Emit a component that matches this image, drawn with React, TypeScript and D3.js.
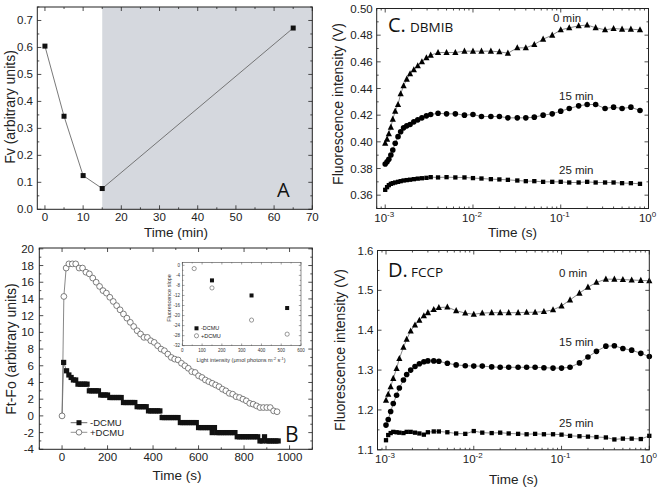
import React from "react";
import * as d3 from "d3";

const W = 661;
const H = 492;

// ---------------- Panel A ----------------
const aTimes = [0, 5, 10, 15, 65];
const aFv = [0.605, 0.345, 0.125, 0.077, 0.672];
const aShadeFrom = 15;
const aXTicks = [0, 10, 20, 30, 40, 50, 60, 70];
const aYTicks = [0, 0.1, 0.2, 0.3, 0.4, 0.5, 0.6, 0.7];

// ---------------- Panel B ----------------
const bPlusTimes = [0, 8, 18, 30, ...d3.range(45, 946, 15)];
const bPlusValues = [
  0, 14.3, 17.7, 18.2,
  18.2, 18.2, 17.7, 17.7, 17.2, 17.0, 16.5, 16.0, 15.5, 15.0,
  14.7, 14.2, 13.7, 13.2, 12.7, 12.2, 11.7, 11.2, 10.7, 10.2,
  9.8, 9.4, 9.4, 9.0, 8.8, 8.4, 8.0, 7.8, 7.4, 7.0,
  6.8, 6.7, 6.3, 6.0, 5.7, 5.3, 5.2, 4.8, 4.6, 4.3,
  4.1, 3.9, 3.7, 3.5, 3.2, 3.0, 2.7, 2.6, 2.3, 2.2,
  2.0, 1.8, 1.5, 1.4, 1.2, 1.0, 1.0, 1.0, 1.0, 0.6, 0.5,
];
const bMinusTimes = [7, ...d3.range(20, 951, 10)];
const bMinusValues = [
  6.4,
  5.4, 4.9, 4.6, 4.3, 4.3,
  3.8, 3.8, 3.8, 3.8, 3.8,
  3.0, 3.0, 3.0, 3.0, 3.0,
  2.5, 2.5, 2.5, 2.5,
  2.2, 2.2, 2.2, 2.2, 2.2, 2.2,
  1.6, 1.6, 1.6, 1.6, 1.6, 1.6,
  1.1, 1.1, 1.1, 1.1, 1.1,
  0.6, 0.6, 0.6, 0.6, 0.6, 0.6,
  -0.2, -0.2, -0.2, -0.2, -0.2, -0.2, -0.2, -0.2,
  -0.8, -0.8, -0.8, -0.8, -0.8, -0.8, -0.8, -0.8,
  -1.4, -1.4, -1.4, -1.4, -1.4, -1.4,
  -2.0, -1.4,
  -2.0, -2.0, -2.0, -2.0, -2.0, -2.0, -2.0, -2.0, -2.0,
  -2.5, -2.5, -2.5, -2.5, -2.5, -2.5, -2.5, -2.5, -2.5, -2.5,
  -3.0, -3.0, -2.5,
  -3.0, -3.0, -3.0, -3.0, -3.0, -3.0,
];
const bXTicks = [0, 200, 400, 600, 800, 1000];
const bYTicks = [-4, -2, 0, 2, 4, 6, 8, 10, 12, 14, 16, 18, 20];

// inset of panel B
const insetMinusLight = [150, 350, 530];
const insetMinusSlope = [-6, -12, -17];
const insetPlusLight = [60, 150, 350, 530];
const insetPlusSlope = [-1.3, -9.0, -21.8, -27.4];
const insetXTicks = [0, 100, 200, 300, 400, 500, 600];
const insetYTicks = [0, -4, -8, -12, -16, -20, -24, -28, -32];

// ---------------- Panel C (DBMIB) ----------------
const cTimes = [
  0.001, 0.00105, 0.0011, 0.00116, 0.00122, 0.0013, 0.0014, 0.0015, 0.00162, 0.00176,
  0.00192, 0.00212, 0.00235, 0.00262, 0.00295, 0.0033, 0.004, 0.005, 0.0063, 0.008,
  0.01, 0.0125, 0.016, 0.02, 0.025, 0.032, 0.04, 0.05, 0.063, 0.08,
  0.1, 0.125, 0.16, 0.2, 0.25, 0.32, 0.4, 0.5, 0.63, 0.8,
];
const c0min = [
  0.399, 0.402, 0.406, 0.411, 0.417, 0.423, 0.428, 0.436, 0.442, 0.447,
  0.451, 0.454, 0.457, 0.46, 0.463, 0.465, 0.467, 0.467, 0.467, 0.468,
  0.468, 0.468, 0.468, 0.4675, 0.4665, 0.4705, 0.4705, 0.473, 0.477, 0.48,
  0.484, 0.4855, 0.487, 0.4876, 0.4856, 0.484, 0.485, 0.4845, 0.4845, 0.484,
];
const c15min = [
  0.3834, 0.3851, 0.3869, 0.3901, 0.3939, 0.3989, 0.4039, 0.4076, 0.4105, 0.412,
  0.413, 0.415, 0.4165, 0.418, 0.4195, 0.4205, 0.4214, 0.421, 0.421, 0.42,
  0.4205, 0.419, 0.419, 0.419, 0.418, 0.418, 0.418, 0.4185, 0.42, 0.421,
  0.423, 0.425, 0.427, 0.428, 0.428, 0.425, 0.426, 0.425, 0.426, 0.4235,
];
const c25min = [
  0.364, 0.366, 0.3675, 0.3685, 0.369, 0.3695, 0.37, 0.3705, 0.371, 0.3713,
  0.3716, 0.372, 0.3724, 0.3727, 0.373, 0.3735, 0.3733, 0.3735, 0.3733, 0.3733,
  0.3728, 0.3725, 0.372, 0.3718, 0.3715, 0.371, 0.3705, 0.3705, 0.37, 0.37,
  0.37, 0.3695, 0.3695, 0.37, 0.3695, 0.3695, 0.3695, 0.369, 0.369, 0.3685,
];
const cYTicks = [0.36, 0.38, 0.4, 0.42, 0.44, 0.46, 0.48, 0.5];

// ---------------- Panel D (FCCP) ----------------
const dTimes = [
  0.001, 0.00106, 0.00113, 0.00121, 0.00132, 0.00142, 0.00158, 0.00172, 0.00191, 0.00214,
  0.0024, 0.0027, 0.003, 0.0035, 0.004, 0.005, 0.0063, 0.008, 0.01, 0.0125,
  0.016, 0.02, 0.025, 0.032, 0.04, 0.05, 0.063, 0.08, 0.1, 0.125,
  0.16, 0.2, 0.25, 0.32, 0.4, 0.5, 0.63, 0.8, 1.0,
];
const d0min = [
  1.224, 1.239, 1.258, 1.279, 1.304, 1.329, 1.357, 1.377, 1.398, 1.413,
  1.425, 1.436, 1.444, 1.452, 1.457, 1.458, 1.449, 1.443, 1.44, 1.443,
  1.444, 1.444, 1.444, 1.444, 1.445, 1.445, 1.447, 1.451, 1.461, 1.476,
  1.493, 1.508, 1.52, 1.528, 1.528, 1.527, 1.526, 1.525, 1.524,
];
const d15min = [
  1.162, 1.176, 1.196, 1.216, 1.237, 1.255, 1.275, 1.289, 1.3, 1.309,
  1.316, 1.321, 1.323, 1.323, 1.322, 1.317, 1.313, 1.311, 1.31, 1.31,
  1.308, 1.307, 1.307, 1.307, 1.307, 1.307, 1.306, 1.305, 1.305, 1.307,
  1.318, 1.333, 1.347, 1.36, 1.361, 1.354, 1.35, 1.342, 1.334,
];
const d25min = [
  1.124, 1.137, 1.142, 1.145, 1.144, 1.143, 1.142, 1.145, 1.145, 1.143,
  1.141, 1.138, 1.144, 1.146, 1.146, 1.144, 1.141, 1.14, 1.147, 1.143,
  1.142, 1.143, 1.141, 1.14, 1.139, 1.14, 1.139, 1.139, 1.138, 1.135,
  1.134, 1.133, 1.132, 1.131, 1.126, 1.128, 1.128, 1.127, 1.135,
];
const dYTicks = [1.1, 1.2, 1.3, 1.4, 1.5, 1.6];
const logExponents = [-3, -2, -1, 0];

// ---------------- styling ----------------
const TF = "'Liberation Sans', Arial, Helvetica, sans-serif";
const LF = "'Open Sans', 'DejaVu Sans', sans-serif";
const FRAME = "#222";
const LINE = "#6a6a6a";

function linTicksPath(xs: any, ys: any, xMaj: number[], xMin: number[], yMaj: number[], yMin: number[], L: number, l: number) {
  const [x0, x1] = xs.range();
  const [y0, y1] = ys.range();
  let d = "";
  const ax = (v: number, len: number) => {
    const p = xs(v);
    d += `M${p},${y0}v${-len}M${p},${y1}v${len}`;
  };
  const ay = (v: number, len: number) => {
    const p = ys(v);
    d += `M${x0},${p}h${len}M${x1},${p}h${-len}`;
  };
  xMaj.forEach((v) => ax(v, L));
  xMin.forEach((v) => ax(v, l));
  yMaj.forEach((v) => ay(v, L));
  yMin.forEach((v) => ay(v, l));
  return d;
}

function minorBetween(domain: number[], step: number, majors: number[]) {
  const lo = Math.min(domain[0], domain[1]);
  const hi = Math.max(domain[0], domain[1]);
  const start = Math.ceil(lo / step - 1e-9) * step;
  return d3
    .range(start, hi + 1e-9, step)
    .filter((v) => !majors.some((m) => Math.abs(m - v) < step * 0.01));
}

const Square = ({ x, y, s, fill = "#000" }: any) => (
  <rect x={x - s / 2} y={y - s / 2} width={s} height={s} fill={fill} />
);
const Tri = ({ x, y, s }: any) => (
  <path d={`M${x},${y - s * 0.58}L${x + s / 2},${y + s * 0.4}L${x - s / 2},${y + s * 0.4}Z`} fill="#000" />
);

function PanelA() {
  const xs = d3.scaleLinear().domain([-2, 70]).range([37.3, 312.3]);
  const ys = d3.scaleLinear().domain([0, 0.75]).range([209.3, 7]);
  const pts = aTimes.map((t, i) => [xs(t), ys(aFv[i])] as [number, number]);
  const line = d3.line();
  const ticks = linTicksPath(
    xs, ys, aXTicks, minorBetween([0, 70], 5, aXTicks), aYTicks, minorBetween([0, 0.75], 0.05, aYTicks), 4, 2
  );
  return (
    <g>
      <rect x={xs(aShadeFrom)} y={ys(0.75)} width={xs(70) - xs(aShadeFrom)} height={ys(0) - ys(0.75)} fill="#d5d8de" />
      <path d={line(pts) || ""} fill="none" stroke={LINE} strokeWidth={0.9} />
      {pts.map(([x, y], i) => (
        <Square key={i} x={x} y={y} s={5} fill="#111" />
      ))}
      <path d={ticks} stroke={FRAME} strokeWidth={0.8} fill="none" />
      <rect x={xs(-2)} y={ys(0.75)} width={xs(70) - xs(-2)} height={ys(0) - ys(0.75)} fill="none" stroke={FRAME} strokeWidth={1} />
      {aYTicks.map((v) => (
        <text key={v} x={33} y={ys(v) + 4} textAnchor="end" fontSize={11.5} fontFamily={TF} fill="#222">
          {d3.format(".1f")(v)}
        </text>
      ))}
      {aXTicks.map((v) => (
        <text key={v} x={xs(v)} y={221} textAnchor="middle" fontSize={11.5} fontFamily={TF} fill="#222">
          {v}
        </text>
      ))}
      <text x={176} y={237} textAnchor="middle" fontSize={13.5} fontFamily={TF} fill="#222">Time (min)</text>
      <text transform={`translate(15,107) rotate(-90)`} textAnchor="middle" fontSize={14} fontFamily={TF} fill="#222">
        Fv (arbitrary units)
      </text>
      <text x={277} y={196.7} fontSize={20} fontFamily={LF} fill="#111">A</text>
    </g>
  );
}

function PanelB() {
  const xs = d3.scaleLinear().domain([-100, 1100]).range([39.3, 312.3]);
  const ys = d3.scaleLinear().domain([-4, 20.1]).range([449.3, 248]);
  const line = d3.line();
  const plus = bPlusTimes.map((t, i) => [xs(t), ys(bPlusValues[i])] as [number, number]);
  const minus = [[xs(0), ys(0)] as [number, number]].concat(
    bMinusTimes.map((t, i) => [xs(t), ys(bMinusValues[i])] as [number, number])
  );
  const ticks = linTicksPath(
    xs, ys, bXTicks, minorBetween([-100, 1100], 100, bXTicks), bYTicks, minorBetween([-4, 20], 1, bYTicks), 4, 2
  );

  const ix = d3.scaleLinear().domain([0, 600]).range([182.3, 301]);
  const iy = d3.scaleLinear().domain([-32, 1.2]).range([345.7, 262.3]);
  const iticks = linTicksPath(
    ix, iy, insetXTicks, minorBetween([0, 600], 50, insetXTicks), insetYTicks, minorBetween([-32, 0], 2, insetYTicks), 2.2, 1.2
  );
  return (
    <g>
      <path d={line(plus) || ""} fill="none" stroke={LINE} strokeWidth={0.8} />
      <path d={line(minus) || ""} fill="none" stroke={LINE} strokeWidth={0.8} />
      {minus.slice(1).map(([x, y], i) => (
        <Square key={i} x={x} y={y} s={5.2} fill="#111" />
      ))}
      {plus.map(([x, y], i) => (
        <circle key={i} cx={x} cy={y} r={2.9} fill="#fff" stroke="#555" strokeWidth={0.75} />
      ))}
      <path d={ticks} stroke={FRAME} strokeWidth={0.8} fill="none" />
      <rect x={39.3} y={248} width={273} height={201.3} fill="none" stroke={FRAME} strokeWidth={1} />
      {bYTicks.map((v) => (
        <text key={v} x={34} y={ys(v) + 4} textAnchor="end" fontSize={11.5} fontFamily={TF} fill="#222">
          {v}
        </text>
      ))}
      {bXTicks.map((v) => (
        <text key={v} x={xs(v)} y={461} textAnchor="middle" fontSize={11.5} fontFamily={TF} fill="#222">
          {v}
        </text>
      ))}
      <text x={177} y={480} textAnchor="middle" fontSize={13.5} fontFamily={TF} fill="#222">Time (s)</text>
      <text transform={`translate(16,349) rotate(-90)`} textAnchor="middle" fontSize={14} fontFamily={TF} fill="#222">
        Ft-Fo (arbitrary units)
      </text>
      <text x={285} y={441.7} fontSize={21} fontFamily={LF} fill="#111">B</text>

      <line x1={70.7} x2={87.3} y1={422.7} y2={422.7} stroke="#444" strokeWidth={0.8} />
      <Square x={79} y={422.7} s={5} fill="#111" />
      <text x={90} y={426} fontSize={9.5} fontFamily={TF} fill="#222">-DCMU</text>
      <line x1={70.7} x2={87.3} y1={432.3} y2={432.3} stroke="#777" strokeWidth={0.8} />
      <circle cx={79} cy={432.3} r={2.8} fill="#fff" stroke="#555" strokeWidth={0.75} />
      <text x={90} y={435.6} fontSize={9.5} fontFamily={TF} fill="#222">+DCMU</text>

      <rect x={182.3} y={262.3} width={118.7} height={83.4} fill="#fff" stroke="#444" strokeWidth={0.6} />
      <path d={iticks} stroke="#444" strokeWidth={0.5} fill="none" />
      {insetMinusLight.map((v, i) => (
        <Square key={i} x={ix(v)} y={iy(insetMinusSlope[i])} s={4} fill="#111" />
      ))}
      {insetPlusLight.map((v, i) => (
        <circle key={i} cx={ix(v)} cy={iy(insetPlusSlope[i])} r={2.1} fill="#fff" stroke="#555" strokeWidth={0.6} />
      ))}
      {insetYTicks.map((v) => (
        <text key={v} x={180} y={iy(v) + 1.6} textAnchor="end" fontSize={4.5} fontFamily={TF} fill="#333">
          {v}
        </text>
      ))}
      {insetXTicks.map((v) => (
        <text key={v} x={ix(v)} y={351.5} textAnchor="middle" fontSize={4.5} fontFamily={TF} fill="#333">
          {v}
        </text>
      ))}
      <text x={241} y={361.5} textAnchor="middle" fontSize={5.5} fontFamily={TF} fill="#333">
        Light intensity (μmol photons m<tspan dy={-2} fontSize={3.8}>-2</tspan><tspan dy={2}> s</tspan><tspan dy={-2} fontSize={3.8}>-1</tspan><tspan dy={2}>)</tspan>
      </text>
      <text transform={`translate(170.5,298) rotate(-90)`} textAnchor="middle" fontSize={5.5} fontFamily={TF} fill="#333">
        Fluorescence slope
      </text>
      <Square x={196.5} y={328.3} s={4} fill="#111" />
      <text x={201} y={330.3} fontSize={5.5} fontFamily={TF} fill="#222">-DCMU</text>
      <circle cx={196.5} cy={335.8} r={2.1} fill="#fff" stroke="#555" strokeWidth={0.6} />
      <text x={201} y={337.8} fontSize={5.5} fontFamily={TF} fill="#222">+DCMU</text>
    </g>
  );
}

function LogPanel(props: any) {
  const p = props;
  const xs = d3.scaleLog().domain([0.0008, 1]).range([p.left, p.right]);
  const ys = d3.scaleLinear().domain(p.yDomain).range([p.bottom, p.top]);
  const line = d3.line();
  const mk = (arr: number[]) => p.times.map((t: number, i: number) => [xs(t), ys(arr[i])] as [number, number]);
  const a0 = mk(p.s0), a15 = mk(p.s15), a25 = mk(p.s25);
  const xMaj = logExponents.map((e) => Math.pow(10, e));
  const xMin: number[] = [];
  logExponents.forEach((e) => {
    for (let k = 2; k <= 9; k++) {
      const v = k * Math.pow(10, e - 1);
      if (v >= 0.0008 && v <= 1) xMin.push(v);
    }
  });
  const ticks = linTicksPath(xs, ys, xMaj, xMin, p.yTicks, minorBetween(p.yDomain, p.yMinorStep, p.yTicks), 4, 2);
  return (
    <g>
      <path d={line(a0) || ""} fill="none" stroke={LINE} strokeWidth={0.8} />
      <path d={line(a15) || ""} fill="none" stroke={LINE} strokeWidth={0.8} />
      <path d={line(a25) || ""} fill="none" stroke={LINE} strokeWidth={0.8} />
      {a0.map(([x, y]: number[], i: number) => <Tri key={i} x={x} y={y} s={6.2} />)}
      {a15.map(([x, y]: number[], i: number) => <circle key={i} cx={x} cy={y} r={2.8} fill="#000" />)}
      {a25.map(([x, y]: number[], i: number) => <Square key={i} x={x} y={y} s={4.3} fill="#000" />)}
      <path d={ticks} stroke={FRAME} strokeWidth={0.8} fill="none" />
      <rect x={p.left} y={p.top} width={p.right - p.left} height={p.bottom - p.top} fill="none" stroke={FRAME} strokeWidth={1} />
      {p.yTicks.map((v: number) => (
        <text key={v} x={p.left - 4} y={ys(v) + 4} textAnchor="end" fontSize={11.5} fontFamily={TF} fill="#222">
          {p.yFmt(v)}
        </text>
      ))}
      {logExponents.map((e) => (
        <text key={e} x={xs(Math.pow(10, e)) - 1} y={p.xLabelBase} textAnchor="middle" fontSize={11.5} fontFamily={TF} fill="#222">
          10<tspan dy={-5} fontSize={8}>{e === 0 ? "0" : String(e)}</tspan>
        </text>
      ))}
      <text x={(p.left + p.right) / 2} y={p.titleBase} textAnchor="middle" fontSize={13.5} fontFamily={TF} fill="#222">Time (s)</text>
      <text transform={`translate(${p.yTitleX},${p.yTitleY}) rotate(-90)`} textAnchor="middle" fontSize={14} fontFamily={TF} fill="#222">
        Fluorescence intensity (V)
      </text>
      <text x={388} y={p.letterBase} fontSize={20} fontFamily={LF} fill="#111">{p.letter}</text>
      <text x={p.drugX} y={p.letterBase} fontSize={13.5} fontFamily={LF} fill="#111">{p.drug}</text>
      <text x={p.min0[0]} y={p.min0[1]} fontSize={11.5} fontFamily={TF} fill="#222">0 min</text>
      <text x={p.min15[0]} y={p.min15[1]} fontSize={11.5} fontFamily={TF} fill="#222">15 min</text>
      <text x={p.min25[0]} y={p.min25[1]} fontSize={11.5} fontFamily={TF} fill="#222">25 min</text>
    </g>
  );
}

export default function App() {
  return (
    <div style={{ position: "absolute", left: 0, top: 0 }}>
      <svg width={W} height={H} viewBox={`0 0 ${W} ${H}`} style={{ display: "block", background: "#fff" }}>
        <rect width={W} height={H} fill="#fff" />
        <PanelA />
        <PanelB />
        <LogPanel
          top={8.5} bottom={208.5} left={376.7} right={648.5}
          yDomain={[0.35, 0.5]} yTicks={cYTicks} yMinorStep={0.01} yFmt={(v: number) => d3.format(".2f")(v)}
          times={cTimes} s0={c0min} s15={c15min} s25={c25min}
          letter="C." drug="DBMIB" drugX={410} letterBase={31.7}
          min0={[553, 22]} min15={[559, 100]} min25={[559, 174]}
          xLabelBase={222} titleBase={237} yTitleX={343} yTitleY={104}
        />
        <LogPanel
          top={250.5} bottom={449.8} left={377.5} right={649.3}
          yDomain={[1.1, 1.6]} yTicks={dYTicks} yMinorStep={0.05} yFmt={(v: number) => d3.format(".1f")(v)}
          times={dTimes} s0={d0min} s15={d15min} s25={d25min}
          letter="D." drug="FCCP" drugX={411} letterBase={276.7}
          min0={[559, 277]} min15={[559, 346]} min25={[559, 427]}
          xLabelBase={463} titleBase={484} yTitleX={345} yTitleY={350}
        />
      </svg>
    </div>
  );
}
